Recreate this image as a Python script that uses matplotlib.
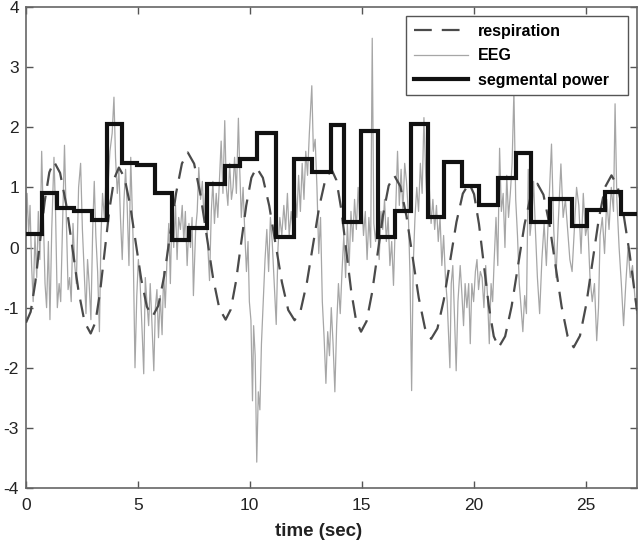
import matplotlib
matplotlib.use("Agg")
import matplotlib.pyplot as plt

# ---------------- data ----------------
seg_edges = [0, 0.70, 1.37, 2.14, 2.95, 3.60, 4.27, 4.97, 5.77, 6.53, 7.29, 8.10,
             8.90, 9.58, 10.34, 11.15, 11.96, 12.78, 13.63, 14.23, 14.97, 15.74,
             16.49, 17.20, 17.95, 18.69, 19.46, 20.25, 21.07, 21.89, 22.56, 23.40,
             24.39, 25.06, 25.86, 26.58, 27.30]
seg_power = [0.23, 0.90, 0.65, 0.60, 0.45, 2.05, 1.41, 1.38, 0.90, 0.12, 0.32, 1.06,
             1.35, 1.47, 1.90, 0.17, 1.48, 1.25, 2.03, 0.42, 1.94, 0.17, 0.60, 2.06,
             0.50, 1.42, 1.03, 0.70, 1.15, 1.57, 0.43, 0.80, 0.35, 0.63, 0.93, 0.55]

resp_t = [0.0, 0.208, 0.417, 0.625, 0.833, 1.042,
          1.25, 1.523, 1.797, 2.07, 2.343, 2.617,
          2.89, 3.10, 3.31, 3.52, 3.73, 3.94,
          4.15, 4.40, 4.65, 4.90, 5.15, 5.40,
          5.65, 5.913, 6.177, 6.44, 6.703, 6.967,
          7.23, 7.512, 7.793, 8.075, 8.357, 8.638,
          8.92, 9.15, 9.38, 9.61, 9.84, 10.07,
          10.3, 10.583, 10.867, 11.15, 11.433, 11.717,
          12.0, 12.275, 12.55, 12.825, 13.10, 13.375,
          13.65, 13.87, 14.09, 14.31, 14.53, 14.75,
          14.97, 15.217, 15.463, 15.71, 15.957, 16.203,
          16.45, 16.725, 17.0, 17.275, 17.55, 17.825,
          18.1, 18.383, 18.667, 18.95, 19.233, 19.517,
          19.8, 20.02, 20.24, 20.46, 20.68, 20.9,
          21.12, 21.408, 21.697, 21.985, 22.273, 22.562,
          22.85, 23.12, 23.39, 23.66, 23.93, 24.2,
          24.47, 24.752, 25.033, 25.315, 25.597, 25.878,
          26.16, 26.43, 26.7, 26.97, 27.3]
resp_v = [-1.25, -1.07, -0.58, 0.09, 0.76, 1.25,
          1.43, 1.24, 0.715, 0.0, -0.715, -1.24,
          -1.43, -1.245, -0.74, -0.05, 0.64, 1.145,
          1.33, 1.164, 0.71, 0.09, -0.53, -0.984,
          -1.15, -0.967, -0.468, 0.215, 0.898, 1.397,
          1.58, 1.394, 0.885, 0.19, -0.505, -1.014,
          -1.2, -1.03, -0.568, 0.065, 0.698, 1.16,
          1.33, 1.16, 0.695, 0.06, -0.575, -1.04,
          -1.21, -1.042, -0.583, 0.045, 0.673, 1.132,
          1.3, 1.119, 0.625, -0.05, -0.725, -1.219,
          -1.4, -1.226, -0.75, -0.1, 0.55, 1.026,
          1.2, 1.018, 0.52, -0.16, -0.84, -1.338,
          -1.52, -1.346, -0.873, -0.225, 0.423, 0.896,
          1.07, 0.887, 0.388, -0.295, -0.978, -1.477,
          -1.66, -1.478, -0.98, -0.3, 0.38, 0.878,
          1.06, 0.878, 0.38, -0.3, -0.98, -1.478,
          -1.66, -1.468, -0.945, -0.23, 0.485, 1.008,
          1.2, 1.02, 0.55, -0.1, -1.05]

eeg_t = [0.00, 0.05, 0.12, 0.18, 0.25, 0.32, 0.40, 0.48, 0.55, 0.62, 0.70, 0.78, 0.85, 0.92,
         1.00, 1.07, 1.15, 1.25, 1.32, 1.40, 1.48, 1.55, 1.62, 1.72, 1.80, 1.88, 1.95, 2.02,
         2.10, 2.18, 2.25, 2.35, 2.44, 2.52, 2.60, 2.68, 2.75, 2.82, 2.90, 2.98, 3.05, 3.12,
         3.20, 3.28, 3.35, 3.42, 3.50, 3.58, 3.66, 3.75, 3.85, 3.93, 4.00, 4.08, 4.15, 4.22,
         4.30, 4.38, 4.45, 4.52, 4.60, 4.68, 4.78, 4.87, 4.95, 5.02, 5.10, 5.20, 5.26, 5.33,
         5.40, 5.48, 5.55, 5.62, 5.71, 5.78, 5.85, 5.92, 6.00, 6.08, 6.15, 6.22, 6.30, 6.38,
         6.45, 6.52, 6.60, 6.68, 6.75, 6.82, 6.90, 6.98, 7.05, 7.12, 7.20, 7.28, 7.35, 7.42,
         7.48, 7.58, 7.65, 7.72, 7.80, 7.88, 7.95, 8.02, 8.10, 8.20, 8.28, 8.35, 8.42, 8.50,
         8.57, 8.65, 8.72, 8.80, 8.88, 8.95, 9.02, 9.10, 9.18, 9.25, 9.32, 9.40, 9.49, 9.55,
         9.62, 9.70, 9.78, 9.85, 9.92, 9.98, 10.05, 10.12, 10.17, 10.24, 10.31, 10.38, 10.45,
         10.52, 10.60, 10.68, 10.76, 10.84, 10.92, 11.00, 11.09, 11.18, 11.26, 11.34, 11.43,
         11.52, 11.60, 11.68, 11.76, 11.85, 11.93, 12.02, 12.10, 12.18, 12.26, 12.34, 12.42,
         12.50, 12.58, 12.66, 12.77, 12.84, 12.92, 13.00, 13.08, 13.16, 13.24, 13.32, 13.40,
         13.48, 13.56, 13.64, 13.72, 13.80, 13.88, 13.96, 14.04, 14.12, 14.20, 14.28, 14.36,
         14.44, 14.52, 14.60, 14.68, 14.76, 14.84, 14.92, 15.00, 15.08, 15.16, 15.24, 15.32,
         15.40, 15.47, 15.54, 15.62, 15.70, 15.78, 15.86, 15.94, 16.02, 16.10, 16.18, 16.26,
         16.34, 16.42, 16.50, 16.60, 16.68, 16.76, 16.84, 16.92, 17.00, 17.08, 17.16, 17.23,
         17.30, 17.38, 17.46, 17.54, 17.62, 17.70, 17.78, 17.86, 17.94, 18.02, 18.10, 18.18,
         18.26, 18.34, 18.42, 18.50, 18.58, 18.66, 18.74, 18.82, 18.94, 19.00, 19.07, 19.15,
         19.22, 19.30, 19.40, 19.48, 19.55, 19.62, 19.70, 19.78, 19.85, 19.92, 20.00, 20.08,
         20.15, 20.22, 20.30, 20.38, 20.46, 20.54, 20.62, 20.70, 20.78, 20.85, 20.92, 21.00,
         21.08, 21.16, 21.24, 21.32, 21.40, 21.48, 21.56, 21.64, 21.72, 21.80, 21.88, 21.96,
         22.04, 22.12, 22.20, 22.28, 22.36, 22.44, 22.52, 22.60, 22.68, 22.76, 22.85, 22.95,
         23.05, 23.15, 23.25, 23.35, 23.48, 23.58, 23.68, 23.78, 23.90, 24.00, 24.10, 24.20,
         24.30, 24.40, 24.50, 24.60, 24.70, 24.80, 24.90, 25.00, 25.10, 25.20, 25.30, 25.40,
         25.50, 25.58, 25.65, 25.75, 25.85, 25.95, 26.05, 26.15, 26.25, 26.32, 26.40, 26.50,
         26.60, 26.70, 26.80, 26.90, 27.00, 27.10, 27.20, 27.30]
eeg_v = [0.3, 0.9, 0.2, 0.7, -0.3, -0.9, 0.2, -0.5, 0.6, -0.2, 1.6, 0.4, -0.6, -1.0,
         0.1, -1.2, 0.3, 1.5, 0.6, -1.0, -0.6, -0.9, 0.2, 1.7, 0.5, -0.7, -0.5, -0.9,
         0.4, -0.3, -0.6, 1.0, 1.4, 0.3, -0.4, -1.1, -0.2, -0.6, -1.2, 0.3, 1.1, 0.2,
         -0.4, -1.4, 0.2, 0.9, 0.5, 1.2, 1.0, 1.6, 1.9, 2.5, 1.5, 0.9, 1.3, 0.5,
         -0.2, 0.8, 1.3, 0.7, -0.3, 1.5, 0.2, -2.0, -0.8, -0.2, -0.6, -1.5, -2.1, -0.5,
         -0.9, -1.3, -0.6, -1.2, -2.05, -1.0, -0.7, -1.5, -0.8, -1.45, -0.4, -1.0, -0.2, 0.4,
         -0.6, 0.6, 0.0, 0.7, -0.2, 0.5, 0.3, 0.7, 0.1, 0.6, -0.3, 0.4, 0.0, 0.5,
         -0.8, 0.3, 0.6, 1.33, 0.8, 1.1, 0.5, 0.9, 0.2, -0.55, 0.6, 1.1, 0.4, 0.9,
         0.5, 1.2, 1.77, 0.9, 2.11, 1.0, 0.7, 1.4, 0.8, 1.0, 1.5, 0.9, 2.15, 1.3,
         0.5, 1.0, 0.2, -0.4, 0.1, -0.9, -1.21, -2.55, -1.3, -1.8, -3.57, -2.4, -2.7,
         -1.6, -0.9, -0.2, 0.3, -0.4, 0.5, 0.1, -0.6, -1.28, 0.0, 0.5, 0.2,
         0.7, 0.3, 0.9, 0.2, 0.6, 0.3, 1.0, 0.5, 1.2, 0.6, 1.4, 0.8,
         1.6, 1.2, 1.9, 2.69, 1.6, 1.8, 1.0, -0.1, 0.5, -0.9, -1.5, -2.26,
         -1.4, -1.8, -1.0, -1.6, -2.4, -1.3, -0.6, -1.1, -0.4, 0.2, -0.5, 0.4,
         -0.3, 0.6, 0.1, 0.8, 0.3, 1.0, 0.4, 0.8, 0.2, 0.6, -0.2, 0.5,
         0.0, 3.48, 0.4, 0.1, 0.5, -0.2, 0.6, 0.3, 0.8, 0.1, 0.5, -0.3,
         0.1, -0.63, 0.4, 1.6, 0.7, 1.3, 0.6, 1.4, 1.1, 0.6, -0.5, -2.38,
         -0.3, 0.5, 1.0, 0.6, 1.4, 0.9, 2.16, 1.2, 0.6, 1.0, 0.4, 0.8,
         0.3, 0.7, 0.1, 0.5, -0.3, 0.2, -0.5, -0.9, -2.0, -0.6, -0.3, -1.2,
         -2.05, -0.9, -0.3, -0.8, -1.3, -0.6, -1.0, -0.6, -1.6, -0.6, -0.9, -0.4,
         -0.2, -0.7, -0.4, -0.5, -1.0, -0.3, -0.8, -1.6, -0.6, -0.9, -0.2, 0.5,
         -0.3, 1.65, 0.6, 0.9, 0.0, 1.2, 0.5, 0.9, 1.4, 2.6, 0.8, 0.2,
         -0.6, -1.0, -1.4, -0.8, -1.1, 1.3, 0.2, 0.5, 1.1, 0.3, -0.5,
         -1.1, -0.2, 0.4, -0.3, 0.6, 1.72, 0.3, -0.5, 0.4, 1.39, 0.5, 0.8,
         0.3, -0.2, -0.4, 0.3, 1.0, 0.7, -0.1, 0.9, 0.2, 0.4, -0.5, -0.9,
         -0.6, -1.55, -1.0, 0.2, 0.5, -0.1, 0.8, 0.3, 1.0, 0.6, 2.39, 0.8,
         0.0, -0.6, -1.3, -0.6, 0.0, -0.5, -0.3, -0.8, -1.1]

x_ticks = [0, 5, 10, 15, 20, 25]
y_ticks = [-4, -3, -2, -1, 0, 1, 2, 3, 4]

# ---------------- figure ----------------
plt.rcParams['font.family'] = ['Liberation Sans', 'DejaVu Sans']
plt.rcParams['axes.unicode_minus'] = False
fig = plt.figure(figsize=(6.38, 5.45), dpi=100)
ax = fig.add_axes([26 / 638, 1 - 488 / 545, 611 / 638, 481 / 545])

ax.plot(resp_t, resp_v, color='#4a4a4a', lw=1.6, dashes=(8, 4.5), label='respiration', zorder=3)
ax.plot(eeg_t, eeg_v, color='#a6a6a6', lw=0.9, label='EEG', zorder=2)
ax.step(seg_edges, seg_power + [seg_power[-1]], where='post', color='#111111', lw=3.0,
        label='segmental power', zorder=4, solid_joinstyle='miter')

ax.set_xlim(0, 27.3)
ax.set_ylim(-4, 4)
ax.set_xticks(x_ticks)
ax.set_yticks(y_ticks)
ax.tick_params(direction='in', top=True, right=True, length=5, width=1,
               color='#555555', labelsize=12.5, labelcolor='#222222')
ax.tick_params(axis='x', pad=7)
ax.tick_params(axis='y', pad=5)
for s in ax.spines.values():
    s.set_color('#666666')
    s.set_linewidth(1.2)

ax.set_xlabel('time (sec)', fontsize=13.5, fontweight='bold', color='#222222')
ax.xaxis.set_label_coords(0.4795, -0.072)

leg = ax.legend(loc='upper left', bbox_to_anchor=(0.622, 0.8813, 0.3633, 0.1),
                mode='expand', borderaxespad=0, fancybox=False,
                framealpha=1, edgecolor='#555555', handlelength=3.4, handletextpad=0.6,
                borderpad=0.5, labelspacing=0.58, prop={'weight': 'bold', 'size': 11.5})
leg.get_frame().set_linewidth(1.0)

fig.savefig('out.png', dpi=100)
